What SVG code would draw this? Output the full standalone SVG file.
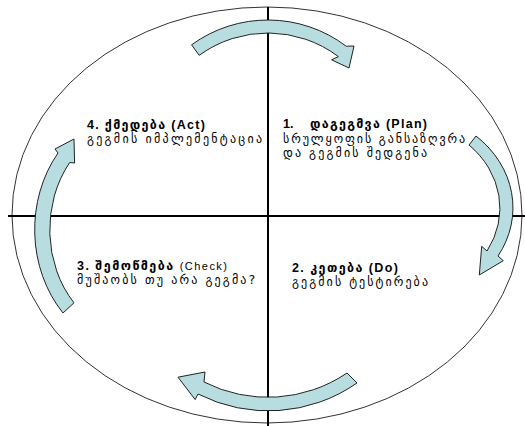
<svg xmlns="http://www.w3.org/2000/svg" width="525" height="426" viewBox="0 0 525 426">
<style>
.frame{fill:none;stroke:#333;stroke-width:1}
.axis{stroke:#000;stroke-width:2}
.arr{fill:#b7dde0;stroke:#222;stroke-width:1;stroke-linejoin:miter}
.h{font-family:"Liberation Sans","DejaVu Sans",sans-serif;font-weight:bold;font-size:12.5px;fill:#000}
.b{font-family:"DejaVu Sans","Liberation Sans",sans-serif;font-size:12px;fill:#000}
</style>
<rect width="525" height="426" fill="#fff"/>
<g id="frame">
<ellipse class="frame" cx="267" cy="215" rx="255" ry="208"/>
</g>
<g id="axes">
<line class="axis" x1="268" y1="7" x2="268" y2="426"/>
<line class="axis" x1="8" y1="216" x2="525" y2="216"/>
</g>
<g id="connectors">
<path class="arr" d="M191.6 44.8 A130 130 0 0 1 346.2 46.2 L354 46 L349 68 L331.6 59.8 L338.4 56.6 A117 117 0 0 0 199.2 55.3 Z"/>
<path class="arr" d="M476 136 A113 97 0 0 1 498 256 L503.3 260.7 L479.3 275 L481.7 246.3 L487 251 A102 88 0 0 0 469 145 Z"/>
<path class="arr" d="M357 383 A155 155 0 0 1 198 394 L195.2 399.6 L178 377.2 L205 372 L204 382 A141 141 0 0 0 347 373 Z"/>
<path class="arr" d="M63 313 A105 122 0 0 1 58 153 L55 149 L74 139 L74.6 163 L69.7 162.5 A90 107 0 0 0 74 302.8 Z"/>
</g>
<g id="act">
<text class="h" x="87" y="129" textLength="118" lengthAdjust="spacing">4. ქმედება (Act)</text>
<text class="b" x="87" y="143" textLength="175" lengthAdjust="spacing">გეგმის იმპლემენტაცია</text>
</g>
<g id="plan">
<text class="h" x="283" y="128">1.</text>
<text class="h" x="310" y="128" textLength="117" lengthAdjust="spacing">დაგეგმვა (Plan)</text>
<text class="b" x="283" y="143" textLength="182" lengthAdjust="spacing">სრულყოფის განსაზღვრა</text>
<text class="b" x="283" y="157" textLength="144" lengthAdjust="spacing">და გეგმის შედგენა</text>
</g>
<g id="check">
<text class="h" x="77" y="270" textLength="150" lengthAdjust="spacing">3. შემოწმება <tspan font-size="11" font-weight="normal">(Check)</tspan></text>
<text class="b" x="77" y="284" textLength="178" lengthAdjust="spacing">მუშაობს თუ არა გეგმა?</text>
</g>
<g id="do">
<text class="h" x="292" y="272" textLength="106" lengthAdjust="spacing">2. კეთება (Do)</text>
<text class="b" x="292" y="286" textLength="136" lengthAdjust="spacing">გეგმის ტესტირება</text>
</g>
</svg>
